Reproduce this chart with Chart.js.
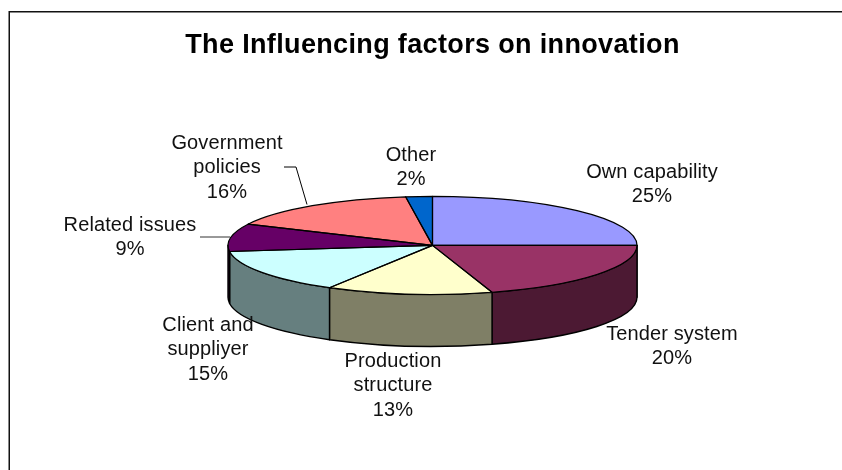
<!DOCTYPE html>
<html>
<head>
<meta charset="utf-8">
<style>html,body{margin:0;padding:0;background:#fff}canvas{display:block}</style>
<script src="https://cdn.jsdelivr.net/npm/chart.js@4"></script>
</head>
<body>
<canvas id="c" width="842" height="470"></canvas>
<script>
const titleText = "The Influencing factors on innovation";
const categories = [["Own capability"],["Tender system"],["Production","structure"],["Client and","suppliyer"],["Related issues"],["Government","policies"],["Other"]];
const values = [25,20.3,13.1,14.6,9.1,15.8,2.1];
const topColors = ["#9999FF","#993366","#FFFFCC","#CCFFFF","#660066","#FF8080","#0066CC"];
const wallColors = ["#4C4C7F","#4C1933","#7F7F66","#667F7F","#330033","#7F4040","#003366"];
// label anchor: centre x, first baseline y
const labelAnchors = [[652,178],[672,340],[393,367],[208,331],[130,231],[227,149],[411,161]];
const leaderLines = [
  {pts:[[284,167],[296,167],[307,204.5]],color:"#000"},
  {pts:[[200,237],[230,237]],color:"#333"}
];
const squash = 49/204.5, depth = 52, lineH = 24.3;

function setSquash(ctx,el){
  ctx.translate(el.x,el.y); ctx.scale(1,squash); ctx.translate(-el.x,-el.y);
}
const pie3d = {
  id:"pie3d",
  beforeDraw(chart){
    const c=chart.ctx; c.save();
    c.strokeStyle="#111"; c.lineWidth=1.5;
    c.strokeRect(9.25,11.75,1000,800);
    c.restore();
    c.letterSpacing="0.35px";
  },
  beforeDatasetsDraw(chart){
    const c=chart.ctx, arcs=chart.getDatasetMeta(0).data;
    c.letterSpacing="0px";
    arcs.forEach((el,i)=>{
      const a0=Math.max(el.startAngle,0), a1=Math.min(el.endAngle,Math.PI);
      if(a1<=a0) return;
      const r=el.outerRadius, ry=r*squash;
      c.save();
      c.beginPath();
      c.ellipse(el.x,el.y,r,ry,0,a0,a1);
      c.lineTo(el.x+r*Math.cos(a1),el.y+ry*Math.sin(a1)+depth);
      c.ellipse(el.x,el.y+depth,r,ry,0,a1,a0,true);
      c.closePath();
      c.fillStyle=wallColors[i]; c.fill();
      c.strokeStyle="#000"; c.lineWidth=1.4; c.lineJoin="round"; c.stroke();
      c.restore();
    });
    c.save();
    setSquash(c,arcs[0]);
  },
  afterDatasetsDraw(chart){
    const c=chart.ctx, arcs=chart.getDatasetMeta(0).data;
    c.restore();
    arcs.forEach(el=>{
      c.save(); setSquash(c,el);
      c.beginPath(); c.moveTo(el.x,el.y);
      c.arc(el.x,el.y,el.outerRadius,el.startAngle,el.endAngle);
      c.closePath();
      c.restore();
      c.save(); c.strokeStyle="#000"; c.lineWidth=1.2; c.lineJoin="round"; c.stroke(); c.restore();
    });
  },
  afterDraw(chart){
    const c=chart.ctx; c.save();
    leaderLines.forEach(l=>{
      c.beginPath(); l.pts.forEach((p,i)=>i?c.lineTo(p[0],p[1]):c.moveTo(p[0],p[1]));
      c.strokeStyle=l.color; c.lineWidth=1; c.stroke();
    });
    c.fillStyle="#111"; c.textAlign="center"; c.textBaseline="alphabetic";
    c.letterSpacing="0.12px";
    c.font='20px "Liberation Sans", Arial, sans-serif';
    categories.forEach((lines,i)=>{
      const [x,y]=labelAnchors[i];
      [...lines, Math.round(values[i])+"%"].forEach((t,k)=>c.fillText(t,x,y+k*lineH));
    });
    c.restore();
  }
};
new Chart(document.getElementById("c"),{
  type:"pie",
  data:{labels:categories.map(l=>l.join(" ")),datasets:[{data:values,backgroundColor:topColors,borderWidth:0}]},
  options:{
    responsive:false,animation:false,events:[],
    radius:204.5,
    layout:{padding:{left:23,right:0,top:0,bottom:41.2}},
    plugins:{
      legend:{display:false},tooltip:{enabled:false},
      title:{display:true,text:titleText,color:"#000",
        font:{family:'"Liberation Sans", Arial, sans-serif',size:27,weight:"bold",lineHeight:1.2},
        padding:{top:29.5,bottom:0}}
    }
  },
  plugins:[pie3d]
});
</script>
</body>
</html>
